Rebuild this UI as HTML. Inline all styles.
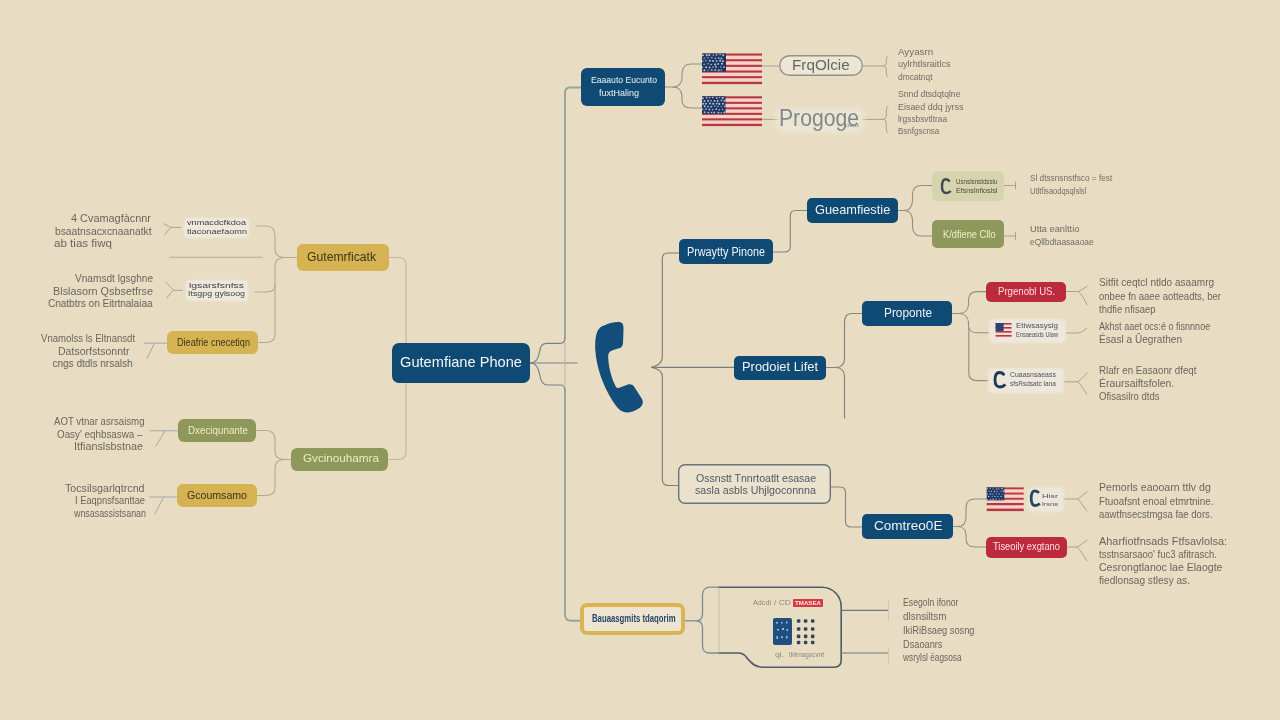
<!DOCTYPE html>
<html><head><meta charset="utf-8"><style>
html,body{margin:0;padding:0;}
body{width:1280px;height:720px;overflow:hidden;background:#E8DDC2;position:relative;font-family:"Liberation Sans",sans-serif;}
.b{position:absolute;}
.t{position:absolute;white-space:pre;line-height:1;transform-origin:0 0;}
svg{position:absolute;left:0;top:0;}
</style></head><body>
<svg width="1280" height="720" viewBox="0 0 1280 720">
<g fill="none" stroke-linecap="round" stroke-linejoin="round">
<!-- left light connectors -->
<g stroke="#b3aa94" stroke-width="1.1">
<path d="M256,226 H266 C272,226 275,229 275,236 V249 C275,255 279,257.5 285,257.5 H297"/>
<path d="M297,257.5 H285 C279,257.5 275,260 275,266 V285 C275,289.5 272,292 266,292 H255"/>
<path d="M275,285 V335 C275,340 271,342.5 265,342.5 H258"/>
<path d="M170,257.3 H262"/>
<path d="M256,430.5 H266 C272,430.5 275,434 275,440 V452 C275,457 279,459.5 285,459.5 H291"/>
<path d="M291,459.5 H285 C279,459.5 275,462 275,468 V488 C275,493 271,495.5 265,495.5 H257"/>
</g>
<g stroke="#c2b79f" stroke-width="1.1">
<path d="M389,257.5 H399 C404,257.5 406,260 406,265 V343"/>
<path d="M406,383 V452 C406,457 403,459.5 398,459.5 H388"/>
</g>
<!-- left forks -->
<g stroke="#a39d8b" stroke-width="0.9">
<path d="M180.5,227.4 H170.8 M170.8,227.4 C168,226 166,224.8 163.9,223.9 M170.8,227.4 C168.5,229.5 166.5,232.5 164.6,235"/>
<path d="M182.6,290.3 H173.6 M173.6,290.3 C171,288 168.5,284.5 166,282.2 M173.6,290.3 C171,292.5 168.5,295.5 166.7,298.2"/>
</g>
<g stroke="#a0aaab" stroke-width="1">
<path d="M144.2,343.2 H167 M154.4,343.5 L147,358.6"/>
<path d="M150,430.8 H178 M165,431 L156,446"/>
<path d="M150,497 H177 M163.7,497 L155,513.7"/>
</g>
<!-- main spine -->
<g stroke="#98a399" stroke-width="1.9">
<path d="M565,338 V93 C565,89.5 566.5,87.5 570,87.5 H581"/>
<path d="M565,390 V614 C565,618.5 567,620.8 571,620.8 H580"/>
</g>
<g stroke="#75828a" stroke-width="1.2">
<path d="M530.5,363 C536,363 538.5,358 539.5,352 C540.5,346 542,343.3 547,343.3 H560 C563.5,343.3 565,341.5 565,338"/>
<path d="M530.5,363 C536,363 538.5,368 539.5,374 C540.5,380 542,385 547,385 H560 C563.5,385 565,387 565,390"/>
<path d="M531,363 H577"/>
</g>
<path d="M565,343 V385" stroke="#b8b5a4" stroke-width="1"/>
<!-- phone spine -->
<g stroke="#7a7e78" stroke-width="1.15">
<path d="M679,253 H668 C664.5,253 662.3,255 662.3,258.5 V357 C662.3,362 659,365.5 651.5,367.3 C659,369 662.3,372 662.3,376 V479 C662.3,483 664.5,485.5 668.5,485.5 H678"/>
<path d="M651.5,367.3 H734"/>
</g>
<!-- right connectors -->
<g stroke="#84877f" stroke-width="1.2">
<path d="M773,252 H784.5 C788,252 790.3,250 790.3,246.5 V216 C790.3,212.5 792,210.5 795.5,210.5 H807"/>
<path d="M826,367.5 H836 C841,367.5 844.5,364 844.5,359 V322 C844.5,317 847,313.5 852,313.5 H862"/>
<path d="M836,367.5 C841,367.5 844.5,371 844.5,376 V418"/>
<path d="M831,487 H840 C843.5,487 845.5,489 845.5,492.5 V521.5 C845.5,525 847.5,527 851,527 H862"/>
</g>
<g stroke="#8b918c" stroke-width="1.1">
<path d="M665,87 H673 C678.5,87 681.5,84 682,78 V73 C682.5,67 685,64 691,64 H702"/>
<path d="M673,87 C678.5,87 681.5,90 682,96 V101 C682.5,106 685,108 691,108 H702"/>
</g>
<g stroke="#8e8f86" stroke-width="1.1">
<path d="M898,210.5 H904 C909.5,210.5 912,207 912.5,201 V194 C913,188.5 915.5,185.5 921,185.5 H932"/>
<path d="M904,210.5 C909.5,210.5 912,214 912.5,220 V227 C913,233 915.5,236 921,236 H932"/>
<path d="M952,313.5 H959 C964.5,313.5 968,310 968.5,305 V299 C969,294 971.5,291.6 977,291.6 H986"/>
<path d="M959,313.5 C964.5,313.5 968,317 968.5,322 V326 C969,331 971.5,332.8 977,332.8 H989"/>
<path d="M968.8,328 V373 C968.8,378 971.5,380.6 977,380.6 H988"/>
<path d="M953,526.5 H957.5 C963,526.5 966,523 966,517 V508 C966,502 969,499 975,499 H986"/>
<path d="M957.5,526.5 C963,526.5 966,530 966,535 V539 C966,544.5 969,547 975,547 H986"/>
</g>
<!-- right text forks -->
<g stroke="#a8a293" stroke-width="1">
<path d="M1004,185.5 H1015.5 M1015.5,182 V189"/>
<path d="M1004,236 H1015.5 M1015.5,232 V240"/>
<path d="M1066,291.5 H1078.5 C1081.5,290 1084,288 1087,286.5 M1078.5,291.5 C1081.5,294 1084,299 1087,304.6"/>
<path d="M1066,333 H1077 C1081.5,333 1084,330.5 1087,328"/>
<path d="M1064,381.8 H1077.5 C1081,380 1084,376 1087,373 M1077.5,381.8 C1081,384 1084,390 1087,394.4"/>
<path d="M1064,499 H1077.8 C1081,497 1084,494 1087,491.6 M1077.8,499 C1081,502 1084,508 1087,511"/>
<path d="M1067,547 H1077 C1081,545 1084,542.5 1087,540 M1077,547 C1081,550 1084,557 1087,561"/>
<path d="M762,66 H779"/>
<path d="M762,119.4 H779"/>
<path d="M863,66 H883.5"/>
<path d="M860,119.4 H884"/>
<path d="M888,56.3 C886,57.5 886.3,60 886.3,62 C886.3,64.5 885.5,66 883.5,66 C885.5,66 886.3,67.5 886.3,70 C886.3,73 886,75.5 888,77"/>
<path d="M888,106 C886,107.5 886.3,111 886.3,114 C886.3,117.5 885.5,119.4 883.5,119.4 C885.5,119.4 886.3,121.5 886.3,125 C886.3,128.5 886,131.5 888,133"/>
</g>
<!-- card -->
<path d="M719,587.2 H710 C705.5,587.2 702.5,590 702.5,594.5 V614 C702.5,618 700.5,620.8 696,620.8 C700.5,620.8 702.5,623.5 702.5,627.5 V646 C702.5,650 705,653 709.5,653 H719" stroke="#7f8a90" stroke-width="1.3"/>
<path d="M685,620.8 H696" stroke="#8e9a96" stroke-width="1.5"/>
<path d="M719,587.2 H822 C833,587.2 841.2,596 841.2,607 V660 C841.2,664.5 838.5,667.2 834,667.2 H762 C755,667.2 751,663 747,658 C745,655 742.5,653 738,653 H719" stroke="#4f5b66" stroke-width="1.6"/>
<path d="M719,588 V652.5" stroke="#c9c0ad" stroke-width="1"/>
<path d="M841.2,610.4 H888.5 M841.2,653 H888.5" stroke="#6d7880" stroke-width="1.2"/>
<path d="M888.5,600 V621 M888.5,649 V664" stroke="#d0c8b4" stroke-width="1"/>
</g>
<!-- phone handset -->
<path fill="#134D7B" d="M604,325.5 C612,322 618,321.5 621,322.5 C623.5,323.5 623.6,327 623.5,330 L623,343 C622.8,346.5 621,348 618,348.6 L612,350.5 C609,351.5 608,354 608.2,357 C608.5,366 611,377 615.5,386 C616.5,388 618,388.6 620,387.6 L628,384.5 C630.5,383.8 632.5,384.5 634,386.5 L642,399 C643.5,402 643,405.5 639.5,408 C635,411 630.5,412.5 627,412.5 C622,412.5 617.5,409 612,400 C603,385 596.5,368 595.3,350 C594.8,340 596,333 598.5,329.5 C600,327 602,326 604,325.5 Z"/>

</svg>
<div class="b" style="left:184px;top:218px;width:65px;height:20px;background:#EFE9DC;border-radius:4px;filter:blur(1px);"></div>
<div class="b" style="left:186px;top:280px;width:62px;height:21px;background:#EFE9DC;border-radius:4px;filter:blur(1px);"></div>
<div class="b" style="left:297px;top:244px;width:92px;height:27px;background:#D6B352;border-radius:6px;"></div>
<div class="b" style="left:167px;top:331px;width:91px;height:23px;background:#D6B352;border-radius:6px;"></div>
<div class="b" style="left:178px;top:419px;width:78px;height:23px;background:#8F985B;border-radius:6px;"></div>
<div class="b" style="left:291px;top:448px;width:97px;height:23px;background:#8F985B;border-radius:6px;"></div>
<div class="b" style="left:177px;top:484px;width:80px;height:23px;background:#D6B352;border-radius:6px;"></div>
<div class="b" style="left:392px;top:343px;width:138px;height:40px;background:#0F4A74;border-radius:7px;"></div>
<div class="b" style="left:581px;top:68px;width:84px;height:38px;background:#0F4A74;border-radius:6px;"></div>
<div class="b" style="left:779px;top:55px;width:84px;height:21px;background:#EDE6D5;border-radius:11px;box-shadow:inset 0 0 0 1.4px #8f928d;"></div>
<div class="b" style="left:679px;top:239px;width:94px;height:25px;background:#0F4A74;border-radius:5px;"></div>
<div class="b" style="left:807px;top:198px;width:91px;height:25px;background:#0F4A74;border-radius:5px;"></div>
<div class="b" style="left:734px;top:356px;width:92px;height:24px;background:#0F4A74;border-radius:5px;"></div>
<div class="b" style="left:862px;top:301px;width:90px;height:25px;background:#0F4A74;border-radius:5px;"></div>
<div class="b" style="left:862px;top:514px;width:91px;height:25px;background:#0F4A74;border-radius:5px;"></div>
<div class="b" style="left:932px;top:171px;width:72px;height:30px;background:#D6D4AF;border-radius:5px;"></div>
<div class="b" style="left:932px;top:220px;width:72px;height:28px;background:#8F985B;border-radius:5px;"></div>
<div class="b" style="left:986px;top:282px;width:80px;height:20px;background:#BC2B3D;border-radius:5px;"></div>
<div class="b" style="left:986px;top:537px;width:81px;height:21px;background:#BC2B3D;border-radius:5px;"></div>
<div class="b" style="left:989px;top:319px;width:77px;height:24px;background:#EEE8DC;border-radius:5px;filter:blur(1px);"></div>
<div class="b" style="left:988px;top:368px;width:76px;height:25px;background:#EEE8DC;border-radius:5px;filter:blur(1px);"></div>
<div class="b" style="left:1028px;top:487px;width:36px;height:25px;background:#EDE7DA;border-radius:5px;filter:blur(1.5px);"></div>
<div class="b" style="left:678px;top:464px;width:153px;height:40px;background:#EBE2CD;border-radius:7px;box-shadow:inset 0 0 0 1.4px #69737a;"></div>
<div class="b" style="left:579.5px;top:603px;width:105.5px;height:32px;background:#EDE5D2;border-radius:7px;box-shadow:inset 0 0 0 4px #D8B551;"></div>
<span class="t" style="left:71.0px;top:213.6px;font-size:10px;color:#6a665f;transform:scaleX(1.090);">4 Cvamagfàcnnr</span>
<span class="t" style="left:54.5px;top:226.6px;font-size:10px;color:#6a665f;transform:scaleX(1.027);">bsaatnsacxcnaanatkt</span>
<span class="t" style="left:54.0px;top:239.1px;font-size:10px;color:#6a665f;transform:scaleX(1.159);">ab tias fiwq</span>
<span class="t" style="left:74.5px;top:274.1px;font-size:10px;color:#6a665f;transform:scaleX(1.010);">Vnamsdt lgsghne</span>
<span class="t" style="left:52.5px;top:286.6px;font-size:10px;color:#6a665f;transform:scaleX(1.084);">Blslasorn Qsbsetfrse</span>
<span class="t" style="left:48.0px;top:299.1px;font-size:10px;color:#6a665f;transform:scaleX(1.000);">Cnatbtrs on Eitrtnalaiaa</span>
<span class="t" style="left:41.0px;top:333.6px;font-size:10px;color:#6a665f;transform:scaleX(0.956);">Vnamolss ls Eltnansdt</span>
<span class="t" style="left:58.0px;top:346.6px;font-size:10px;color:#6a665f;transform:scaleX(1.055);">Datsorfstsonntr</span>
<span class="t" style="left:52.5px;top:359.1px;font-size:10px;color:#6a665f;transform:scaleX(1.000);">cngs dtdls nrsalsh</span>
<span class="t" style="left:54.0px;top:417.1px;font-size:10px;color:#6a665f;transform:scaleX(0.966);">AOT vtnar asrsaismg</span>
<span class="t" style="left:57.0px;top:429.6px;font-size:10px;color:#6a665f;transform:scaleX(0.983);">Oasy' eqhbsaswa –</span>
<span class="t" style="left:74.0px;top:442.1px;font-size:10px;color:#6a665f;transform:scaleX(1.079);">Itfianslsbstnae</span>
<span class="t" style="left:65.0px;top:483.6px;font-size:10px;color:#6a665f;transform:scaleX(1.068);">Tocsilsgarlqtrcnd</span>
<span class="t" style="left:75.0px;top:495.6px;font-size:10px;color:#6a665f;transform:scaleX(0.933);">I Eaqpnsfsanttae</span>
<span class="t" style="left:74.0px;top:508.6px;font-size:10px;color:#6a665f;transform:scaleX(0.887);">wnsasassistsanan</span>
<span class="t" style="left:187.0px;top:219.4px;font-size:7.5px;color:#3b3f4a;transform:scaleX(1.220);">vnmacdcfkdoa</span>
<span class="t" style="left:187.0px;top:227.9px;font-size:7.5px;color:#3b3f4a;transform:scaleX(1.220);">tiaconaefaomn</span>
<span class="t" style="left:189.0px;top:281.9px;font-size:7.5px;color:#3b3f4a;transform:scaleX(1.389);">lgsarsfsnfss</span>
<span class="t" style="left:188.0px;top:290.4px;font-size:7.5px;color:#3b3f4a;transform:scaleX(1.179);">Itsgpg gylsoog</span>
<span class="t" style="left:307.0px;top:251.0px;font-size:12px;color:#3b3518;transform:scaleX(1.015);">Gutemrficatk</span>
<span class="t" style="left:177.0px;top:336.6px;font-size:11px;color:#3b3518;transform:scaleX(0.829);">Dieafrie cnecetiqn</span>
<span class="t" style="left:187.5px;top:424.6px;font-size:11px;color:#ECEBC6;transform:scaleX(0.892);">Dxeciqunante</span>
<span class="t" style="left:303.0px;top:453.3px;font-size:11.5px;color:#ECEBC6;transform:scaleX(1.016);">Gvcinouhamra</span>
<span class="t" style="left:187.0px;top:489.6px;font-size:11px;color:#3b3518;transform:scaleX(0.962);">Gcoumsamo</span>
<span class="t" style="left:400.0px;top:354.4px;font-size:15px;color:#F4F6F8;transform:scaleX(0.975);">Gutemfiane Phone</span>
<span class="t" style="left:591.0px;top:75.3px;font-size:9.5px;color:#F0F3F6;transform:scaleX(0.906);">Eaaauto Eucunto</span>
<span class="t" style="left:599.0px;top:87.7px;font-size:9.5px;color:#F0F3F6;transform:scaleX(0.947);">fuxtHaling</span>
<span class="t" style="left:792.3px;top:56.5px;font-size:15px;color:#636664;transform:scaleX(1.018);">FrqOlcie</span>
<div class="b" style="left:776px;top:108px;width:88px;height:25px;background:#ECE5D4;border-radius:6px;filter:blur(2.5px);"></div>
<span class="t" style="left:779.0px;top:105.9px;font-size:24px;color:#7f888e;transform:scaleX(0.882);">Progoge</span>
<span class="t" style="left:845.0px;top:123.3px;font-size:5px;color:#888;transform:scaleX(1.678);">ooo</span>
<span class="t" style="left:897.5px;top:46.9px;font-size:9.5px;color:#716d66;transform:scaleX(1.031);">Ayyasrn</span>
<span class="t" style="left:897.5px;top:58.9px;font-size:9.5px;color:#716d66;transform:scaleX(0.956);">uylrhtlsraitlcs</span>
<span class="t" style="left:897.5px;top:71.5px;font-size:9.5px;color:#716d66;transform:scaleX(0.883);">dmcatnqt</span>
<span class="t" style="left:897.5px;top:88.9px;font-size:9.5px;color:#716d66;transform:scaleX(0.910);">Snnd dtsdqtqlne</span>
<span class="t" style="left:897.5px;top:101.9px;font-size:9.5px;color:#716d66;transform:scaleX(0.940);">Eisaed ddq jyrss</span>
<span class="t" style="left:897.5px;top:114.3px;font-size:9.5px;color:#716d66;transform:scaleX(0.876);">lrgssbsvtltraa</span>
<span class="t" style="left:897.5px;top:125.9px;font-size:9.5px;color:#716d66;transform:scaleX(0.841);">Bsnfgscnsa</span>
<span class="t" style="left:687.0px;top:245.5px;font-size:12px;color:#F0F3F6;transform:scaleX(0.900);">Prwaytty Pinone</span>
<span class="t" style="left:814.7px;top:203.9px;font-size:12.2px;color:#F0F3F6;transform:scaleX(1.048);">Gueamfiestie</span>
<span class="t" style="left:742.0px;top:360.8px;font-size:12.5px;color:#F0F3F6;transform:scaleX(1.032);">Prodoiet Lifet</span>
<span class="t" style="left:884.0px;top:306.8px;font-size:12.5px;color:#F0F3F6;transform:scaleX(0.946);">Proponte</span>
<span class="t" style="left:874.4px;top:519.0px;font-size:13.5px;color:#F0F3F6;transform:scaleX(1.002);">Comtreo0E</span>
<span class="t" style="left:955.6px;top:177.7px;font-size:7px;color:#4a4a3a;transform:scaleX(0.887);">Usnslsnstdsslu</span>
<span class="t" style="left:955.6px;top:187.2px;font-size:7px;color:#4a4a3a;transform:scaleX(1.023);">Efsnslnfiosisl</span>
<span class="t" style="left:943.4px;top:228.6px;font-size:11px;color:#EEEDC8;transform:scaleX(0.843);">K/dfiene Cllo</span>
<span class="t" style="left:1029.7px;top:173.3px;font-size:9.5px;color:#716d66;transform:scaleX(0.868);">Sl dtssnsnstfsco = fest</span>
<span class="t" style="left:1029.7px;top:185.9px;font-size:9.5px;color:#716d66;transform:scaleX(0.796);">Utltfisaodqsqlslsl</span>
<span class="t" style="left:1029.7px;top:224.3px;font-size:9.5px;color:#716d66;transform:scaleX(0.973);">Utta eanlttio</span>
<span class="t" style="left:1029.7px;top:236.9px;font-size:9.5px;color:#716d66;transform:scaleX(0.887);">eQllbdtaasaaoae</span>
<span class="t" style="left:998.4px;top:286.1px;font-size:11px;color:#FFDDE0;transform:scaleX(0.874);">Prgenobl US.</span>
<span class="t" style="left:1016.0px;top:322.6px;font-size:6.8px;color:#4a5260;transform:scaleX(1.182);">Etiwsasyslg</span>
<span class="t" style="left:1016.0px;top:332.3px;font-size:6.8px;color:#4a5260;transform:scaleX(0.829);">Ensaeasds Ulaw</span>
<span class="t" style="left:1009.7px;top:371.9px;font-size:6.8px;color:#4a5260;transform:scaleX(1.020);">Cuaasnsaeass</span>
<span class="t" style="left:1009.7px;top:381.1px;font-size:6.8px;color:#4a5260;transform:scaleX(0.956);">sfsRsdsatc lana</span>
<span class="t" style="left:1042.0px;top:492.8px;font-size:6px;color:#4a5260;transform:scaleX(1.500);">Hisr</span>
<span class="t" style="left:1042.0px;top:500.6px;font-size:6px;color:#4a5260;transform:scaleX(1.263);">lrsns</span>
<span class="t" style="left:993.4px;top:541.1px;font-size:11px;color:#FFDDE0;transform:scaleX(0.847);">Tiseoily exgtano</span>
<span class="t" style="left:1098.5px;top:278.4px;font-size:10.3px;color:#6a665f;transform:scaleX(0.976);">Sitfit ceqtcl ntldo asaamrg</span>
<span class="t" style="left:1098.5px;top:292.0px;font-size:10.3px;color:#6a665f;transform:scaleX(0.926);">onbee fn aaee aotteadts, ber</span>
<span class="t" style="left:1098.5px;top:305.2px;font-size:10.3px;color:#6a665f;transform:scaleX(0.922);">thdfie nfisaep</span>
<span class="t" style="left:1098.5px;top:322.1px;font-size:10.3px;color:#6a665f;transform:scaleX(0.879);">Akhst aaet ocs:é o fisnnnoe</span>
<span class="t" style="left:1098.5px;top:334.8px;font-size:10.3px;color:#6a665f;transform:scaleX(0.980);">Ésasl a Ûegrathen</span>
<span class="t" style="left:1098.5px;top:365.9px;font-size:10.3px;color:#6a665f;transform:scaleX(0.946);">Rlafr en Easaonr dfeqt</span>
<span class="t" style="left:1098.5px;top:379.1px;font-size:10.3px;color:#6a665f;transform:scaleX(1.010);">Éraursaiftsfolen.</span>
<span class="t" style="left:1098.5px;top:391.7px;font-size:10.3px;color:#6a665f;transform:scaleX(0.927);">Ofisasilro dtds</span>
<span class="t" style="left:1099.0px;top:483.4px;font-size:10.3px;color:#6a665f;transform:scaleX(1.028);">Pemorls eaooarn ttlv dg</span>
<span class="t" style="left:1099.0px;top:496.9px;font-size:10.3px;color:#6a665f;transform:scaleX(0.957);">Ftuoafsnt enoal etmrtnine.</span>
<span class="t" style="left:1099.0px;top:509.9px;font-size:10.3px;color:#6a665f;transform:scaleX(0.927);">aawtfnsecstmgsa fae dors.</span>
<span class="t" style="left:1099.0px;top:536.6px;font-size:10.3px;color:#6a665f;transform:scaleX(1.060);">Aharfiotfnsads Ftfsavlolsa:</span>
<span class="t" style="left:1099.0px;top:549.6px;font-size:10.3px;color:#6a665f;transform:scaleX(0.927);">tsstnsarsaoo' fuc3 afitrasch.</span>
<span class="t" style="left:1099.0px;top:562.8px;font-size:10.3px;color:#6a665f;transform:scaleX(1.022);">Cesrongtlanoc lae Elaogte</span>
<span class="t" style="left:1099.0px;top:576.4px;font-size:10.3px;color:#6a665f;transform:scaleX(0.981);">fiedlonsag stlesy as.</span>
<span class="t" style="left:695.6px;top:472.7px;font-size:10.5px;color:#4d5a66;transform:scaleX(1.005);">Ossnstt Tnnrtoatlt esasae</span>
<span class="t" style="left:694.7px;top:485.3px;font-size:10.5px;color:#4d5a66;transform:scaleX(1.015);">sasla asbls Uhjlgoconnna</span>
<span class="t" style="left:592.0px;top:612.9px;font-size:11px;color:#2b4668;transform:scaleX(0.705);font-weight:bold;">Bauaasgmits tdaqorim</span>
<span class="t" style="left:753.0px;top:599.1px;font-size:8px;color:#8a8680;transform:scaleX(0.899);">Adcdi</span>
<span class="t" style="left:774.0px;top:599.1px;font-size:8px;color:#8a8680;transform:scaleX(1.062);">/ CD</span>
<div class="b" style="left:793.4px;top:599.2px;width:29.600000000000023px;height:7.399999999999977px;background:#D03A40;border-radius:1px;"></div>
<span class="t" style="left:795.0px;top:599.8px;font-size:6px;color:#FFE8E8;transform:scaleX(1.026);font-weight:bold;">TMASEA</span>
<div class="b" style="left:773px;top:617.5px;width:19px;height:27.799999999999955px;background:#1E4F7E;border-radius:2px;"></div>
<span class="t" style="left:775.0px;top:651.2px;font-size:8px;color:#8a8680;transform:scaleX(1.065);">ql.</span>
<span class="t" style="left:789.0px;top:651.2px;font-size:8px;color:#8a8680;transform:scaleX(0.795);">tMrnagocvnt</span>
<span class="t" style="left:902.5px;top:598.2px;font-size:10.3px;color:#6a665f;transform:scaleX(0.843);">Esegoln ifonor</span>
<span class="t" style="left:902.5px;top:611.7px;font-size:10.3px;color:#6a665f;transform:scaleX(0.962);">dlsnsiltsm</span>
<span class="t" style="left:902.5px;top:626.3px;font-size:10.3px;color:#6a665f;transform:scaleX(0.899);">IkiRiBsaeg sosng</span>
<span class="t" style="left:902.5px;top:640.0px;font-size:10.3px;color:#6a665f;transform:scaleX(0.896);">Dsaoanrs</span>
<span class="t" style="left:902.5px;top:653.2px;font-size:10.3px;color:#6a665f;transform:scaleX(0.805);">wsrylsl ëagsosa</span>
<svg width="1280" height="720" viewBox="0 0 1280 720">
<!-- flags -->
<g id="flagA">
<rect x="702" y="53.5" width="60" height="30.8" fill="#F4D3CA"/>
<rect x="702" y="53.5" width="60" height="2.1" fill="#B7383F"/>
<rect x="702" y="59.2" width="60" height="2.1" fill="#B7383F"/>
<rect x="702" y="64.8" width="60" height="2.1" fill="#B7383F"/>
<rect x="702" y="70.5" width="60" height="2.1" fill="#B7383F"/>
<rect x="702" y="76.1" width="60" height="2.1" fill="#B7383F"/>
<rect x="702" y="81.8" width="60" height="2.3" fill="#B7383F"/>
<rect x="702" y="53.5" width="24" height="18.2" fill="#1F3763"/>
</g>
<g>
<rect x="702" y="96.3" width="60" height="29.8" fill="#F4D3CA"/>
<rect x="702" y="96.3" width="60" height="2.1" fill="#B7383F"/>
<rect x="702" y="101.8" width="60" height="2.1" fill="#B7383F"/>
<rect x="702" y="107.3" width="60" height="2.1" fill="#B7383F"/>
<rect x="702" y="112.8" width="60" height="2.1" fill="#B7383F"/>
<rect x="702" y="118.3" width="60" height="2.1" fill="#B7383F"/>
<rect x="702" y="123.8" width="60" height="2.3" fill="#B7383F"/>
<rect x="702" y="96.3" width="23.5" height="17.5" fill="#1F3763"/>
</g>
<g>
<rect x="986.7" y="487.4" width="37" height="23.7" fill="#F4D3CA"/>
<rect x="986.7" y="487.4" width="37" height="1.9" fill="#B7383F"/>
<rect x="986.7" y="492.6" width="37" height="1.9" fill="#B7383F"/>
<rect x="986.7" y="497.8" width="37" height="1.9" fill="#B7383F"/>
<rect x="986.7" y="503.0" width="37" height="2.2" fill="#B7383F"/>
<rect x="986.7" y="508.6" width="37" height="2.5" fill="#B7383F"/>
<rect x="986.7" y="487.4" width="17.6" height="13" fill="#1F3763"/>
</g>
<g>
<rect x="995.6" y="323" width="16" height="15.4" fill="#F1DCD6"/>
<rect x="995.6" y="323" width="16" height="1.6" fill="#B7383F"/>
<rect x="995.6" y="327" width="16" height="1.6" fill="#B7383F"/>
<rect x="995.6" y="331" width="16" height="1.6" fill="#B7383F"/>
<rect x="995.6" y="335" width="16" height="1.6" fill="#B7383F"/>
<rect x="995.6" y="323" width="8" height="8" fill="#2A4273"/>
</g>
<g fill="#D5DEEC" opacity="0.85"><circle cx="703.0" cy="55.2" r="0.98"/><circle cx="706.7" cy="55.2" r="1.03"/><circle cx="709.2" cy="55.0" r="1.04"/><circle cx="713.3" cy="55.3" r="0.72"/><circle cx="716.5" cy="54.8" r="0.89"/><circle cx="720.1" cy="54.6" r="0.76"/><circle cx="723.2" cy="55.3" r="0.97"/><circle cx="704.2" cy="58.3" r="0.73"/><circle cx="708.1" cy="57.8" r="0.68"/><circle cx="711.8" cy="57.8" r="0.76"/><circle cx="715.3" cy="58.3" r="0.79"/><circle cx="718.7" cy="58.1" r="0.94"/><circle cx="721.4" cy="58.4" r="0.94"/><circle cx="702.7" cy="61.0" r="0.74"/><circle cx="705.9" cy="60.7" r="0.80"/><circle cx="709.8" cy="60.7" r="0.94"/><circle cx="713.0" cy="60.9" r="0.99"/><circle cx="716.6" cy="60.9" r="0.86"/><circle cx="720.2" cy="60.7" r="1.05"/><circle cx="723.0" cy="61.3" r="1.00"/><circle cx="704.1" cy="64.3" r="0.82"/><circle cx="708.1" cy="63.7" r="0.70"/><circle cx="711.1" cy="64.5" r="0.76"/><circle cx="715.1" cy="64.5" r="1.04"/><circle cx="718.1" cy="64.0" r="0.88"/><circle cx="722.0" cy="63.8" r="0.97"/><circle cx="702.4" cy="67.5" r="0.71"/><circle cx="706.1" cy="67.2" r="1.03"/><circle cx="709.6" cy="67.5" r="0.89"/><circle cx="713.0" cy="67.0" r="0.75"/><circle cx="716.1" cy="66.9" r="0.94"/><circle cx="720.5" cy="66.9" r="0.70"/><circle cx="723.9" cy="67.2" r="0.84"/><circle cx="704.3" cy="70.3" r="1.00"/><circle cx="708.0" cy="70.1" r="0.70"/><circle cx="711.8" cy="69.8" r="0.87"/><circle cx="715.2" cy="69.9" r="0.96"/><circle cx="718.7" cy="70.3" r="0.98"/><circle cx="721.3" cy="70.1" r="0.74"/><circle cx="702.8" cy="98.2" r="1.01"/><circle cx="706.7" cy="97.7" r="0.87"/><circle cx="709.8" cy="97.7" r="0.79"/><circle cx="712.8" cy="97.5" r="0.82"/><circle cx="716.8" cy="98.1" r="0.92"/><circle cx="719.6" cy="97.6" r="0.71"/><circle cx="722.8" cy="98.0" r="1.01"/><circle cx="704.4" cy="100.9" r="0.98"/><circle cx="708.1" cy="100.8" r="0.97"/><circle cx="711.1" cy="100.8" r="0.79"/><circle cx="714.6" cy="100.9" r="0.94"/><circle cx="717.7" cy="101.0" r="0.93"/><circle cx="721.4" cy="100.3" r="0.89"/><circle cx="724.4" cy="100.8" r="0.86"/><circle cx="703.2" cy="103.7" r="0.99"/><circle cx="706.0" cy="103.7" r="0.96"/><circle cx="709.9" cy="103.5" r="1.00"/><circle cx="713.3" cy="103.7" r="1.05"/><circle cx="716.7" cy="103.6" r="0.88"/><circle cx="719.3" cy="103.9" r="1.04"/><circle cx="723.0" cy="103.7" r="0.96"/><circle cx="704.7" cy="106.2" r="0.98"/><circle cx="708.0" cy="106.6" r="0.84"/><circle cx="711.4" cy="106.7" r="0.92"/><circle cx="714.8" cy="106.1" r="0.74"/><circle cx="717.9" cy="106.6" r="0.76"/><circle cx="721.5" cy="106.6" r="0.70"/><circle cx="724.6" cy="106.3" r="0.70"/><circle cx="702.5" cy="109.3" r="0.75"/><circle cx="705.9" cy="109.1" r="0.86"/><circle cx="709.4" cy="109.5" r="0.91"/><circle cx="712.6" cy="109.7" r="0.68"/><circle cx="716.2" cy="109.2" r="0.84"/><circle cx="719.2" cy="109.7" r="0.82"/><circle cx="722.5" cy="109.5" r="0.72"/><circle cx="704.6" cy="112.2" r="0.90"/><circle cx="708.3" cy="112.6" r="0.84"/><circle cx="711.5" cy="112.5" r="0.82"/><circle cx="714.2" cy="112.4" r="0.90"/><circle cx="718.4" cy="112.7" r="0.91"/><circle cx="721.2" cy="112.7" r="0.68"/><circle cx="724.3" cy="112.4" r="0.92"/><circle cx="987.1" cy="488.8" r="0.78"/><circle cx="990.2" cy="488.6" r="0.59"/><circle cx="993.1" cy="489.1" r="0.63"/><circle cx="996.7" cy="489.0" r="0.69"/><circle cx="998.9" cy="489.1" r="0.67"/><circle cx="1002.0" cy="488.6" r="0.81"/><circle cx="988.9" cy="491.1" r="0.66"/><circle cx="991.5" cy="491.4" r="0.65"/><circle cx="994.6" cy="491.5" r="0.76"/><circle cx="997.2" cy="491.3" r="0.60"/><circle cx="1001.1" cy="491.5" r="0.59"/><circle cx="1003.3" cy="491.0" r="0.81"/><circle cx="987.2" cy="494.0" r="0.66"/><circle cx="990.5" cy="494.0" r="0.74"/><circle cx="992.9" cy="494.1" r="0.61"/><circle cx="996.3" cy="493.8" r="0.61"/><circle cx="999.2" cy="493.9" r="0.63"/><circle cx="1002.3" cy="494.0" r="0.53"/><circle cx="988.7" cy="496.5" r="0.79"/><circle cx="992.2" cy="496.5" r="0.52"/><circle cx="995.0" cy="496.4" r="0.69"/><circle cx="997.9" cy="496.6" r="0.66"/><circle cx="1001.0" cy="496.4" r="0.63"/><circle cx="987.2" cy="499.4" r="0.54"/><circle cx="990.7" cy="499.3" r="0.65"/><circle cx="993.1" cy="499.3" r="0.79"/><circle cx="995.9" cy="499.1" r="0.68"/><circle cx="999.2" cy="499.0" r="0.56"/><circle cx="1002.2" cy="499.3" r="0.54"/></g>
<!-- C icons -->
<g fill="none" stroke-width="2.8" stroke-linecap="butt">
<path d="M1004.3,375.2 C1003,373 1001,372.5 999.5,372.5 C996.5,372.5 995,375.5 995,380 C995,384.5 996.5,387 1000,387 C1002.5,387 1004,386 1005.4,384.5" stroke="#1f3a58"/>
<path d="M1038.8,493 C1037.7,491.2 1036.2,490.8 1035,490.8 C1032.4,490.8 1031.2,493.5 1031.2,498.5 C1031.2,503.5 1032.4,505.6 1035.3,505.6 C1037.4,505.6 1038.6,504.8 1039.8,503.6" stroke="#1f4866"/>
<path d="M949.6,181.6 C948.6,179.8 947.2,179.3 946,179.3 C943.4,179.3 942,182 942,186.3 C942,190.6 943.4,193 946.3,193 C948.3,193 949.6,192.2 950.7,191" stroke="#3b4a55" stroke-width="2.4"/>
</g>
<!-- card contents -->
<g fill="#34455a">
<rect x="796.8" y="619.2" width="3.6" height="3.6" rx="1.2"/><rect x="803.8" y="619.2" width="3.6" height="3.6" rx="1.2"/><rect x="810.9" y="619.2" width="3.6" height="3.6" rx="1.2"/>
<rect x="796.8" y="627.2" width="3.6" height="3.6" rx="1.2"/><rect x="803.8" y="627.2" width="3.6" height="3.6" rx="1.2"/><rect x="810.9" y="627.2" width="3.6" height="3.6" rx="1.2"/>
<rect x="796.8" y="634.6" width="3.6" height="3.6" rx="1.2"/><rect x="803.8" y="634.6" width="3.6" height="3.6" rx="1.2"/><rect x="810.9" y="634.6" width="3.6" height="3.6" rx="1.2"/>
<rect x="796.8" y="640.7" width="3.6" height="3.6" rx="1.2"/><rect x="803.8" y="640.7" width="3.6" height="3.6" rx="1.2"/><rect x="810.9" y="640.7" width="3.6" height="3.6" rx="1.2"/>
</g>
<g fill="#9cc0df">
<rect x="776" y="622" width="2" height="1.5"/><rect x="781" y="622" width="1.5" height="1.5"/><rect x="786" y="621.5" width="1.5" height="2"/>
<rect x="777" y="629" width="2" height="1.5"/><rect x="782" y="628" width="2" height="2"/><rect x="786.5" y="629" width="1.5" height="2"/>
<rect x="776.5" y="636" width="1.5" height="3"/><rect x="781" y="636.5" width="2" height="1.5"/><rect x="786" y="636" width="1.5" height="2.5"/>
</g>

</svg>
</body></html>
